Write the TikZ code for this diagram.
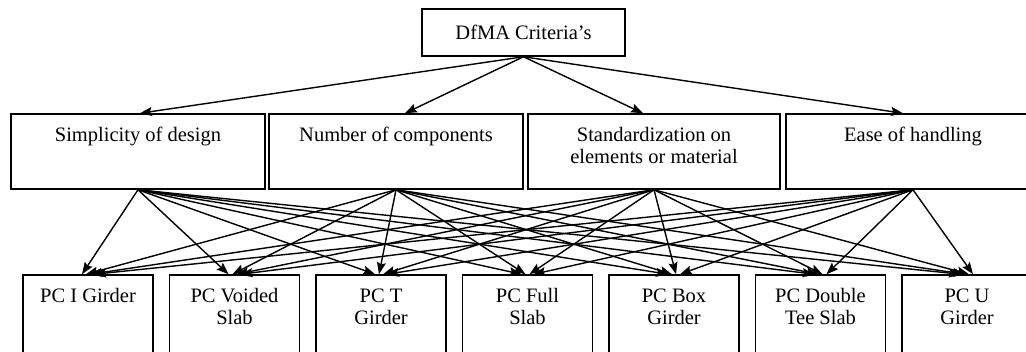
\documentclass[tikz,border=0pt]{standalone}
\usepackage{fontspec}
\setmainfont{Liberation Serif}
\usetikzlibrary{arrows.meta}

\begin{document}
\begin{tikzpicture}[x=1pt,y=-1pt,font=\fontsize{20.5}{22}\selectfont,
    box/.style={draw,line width=1.5pt,inner sep=0pt},
    lbl/.style={anchor=north,yshift=-14pt,inner sep=0pt,align=center},
    crit/.style={box,minimum width=254pt,minimum height=75pt,label={[lbl]north:#1}},
    elem/.style={box,minimum width=130pt,minimum height=100pt,label={[lbl]north:#1}},
    arr/.style={-{Stealth[length=12pt,width=9pt,inset=2pt]},line width=1.4pt}]
  \useasboundingbox (0,0) rectangle (1026,351);
  \clip (0,0) rectangle (1026,351);

  \node[box,minimum width=203pt,minimum height=47pt] (top) at (523.5,32.5) {DfMA Criteria's};

  \node[crit={Simplicity of design}] (simp) at (138,151.5) {};
  \node[crit={Number of components}] (numb) at (396,151.5) {};
  \node[crit={Standardization on\\elements or material},minimum width=252pt] (stan) at (654,151.5) {};
  \node[crit={Ease of handling}] (ease) at (913,151.5) {};

  \foreach \n/\txt [count=\i from 0] in {pci/PC I Girder,pcv/PC Voided\\Slab,pct/PC T\\Girder,
      pcf/PC Full\\Slab,pcb/PC Box\\Girder,pcd/PC Double\\Tee Slab,pcu/PC U\\Girder}
    \node[elem=\txt] (\n) at (88+146.5*\i,325) {};

  \foreach \c/\d in {simp/2,numb/9,stan/-11,ease/-10}
    \draw[arr] (top.south) -- ([xshift=\d]\c.north);

  \foreach \c/\d in {simp/-6,numb/-2,stan/2,ease/6}
    \foreach \b in {pci,pcv,pct,pcf,pcb,pcd,pcu}
      \draw[arr] (\c.south) -- ([xshift=\d]\b.north);
\end{tikzpicture}
\end{document}
